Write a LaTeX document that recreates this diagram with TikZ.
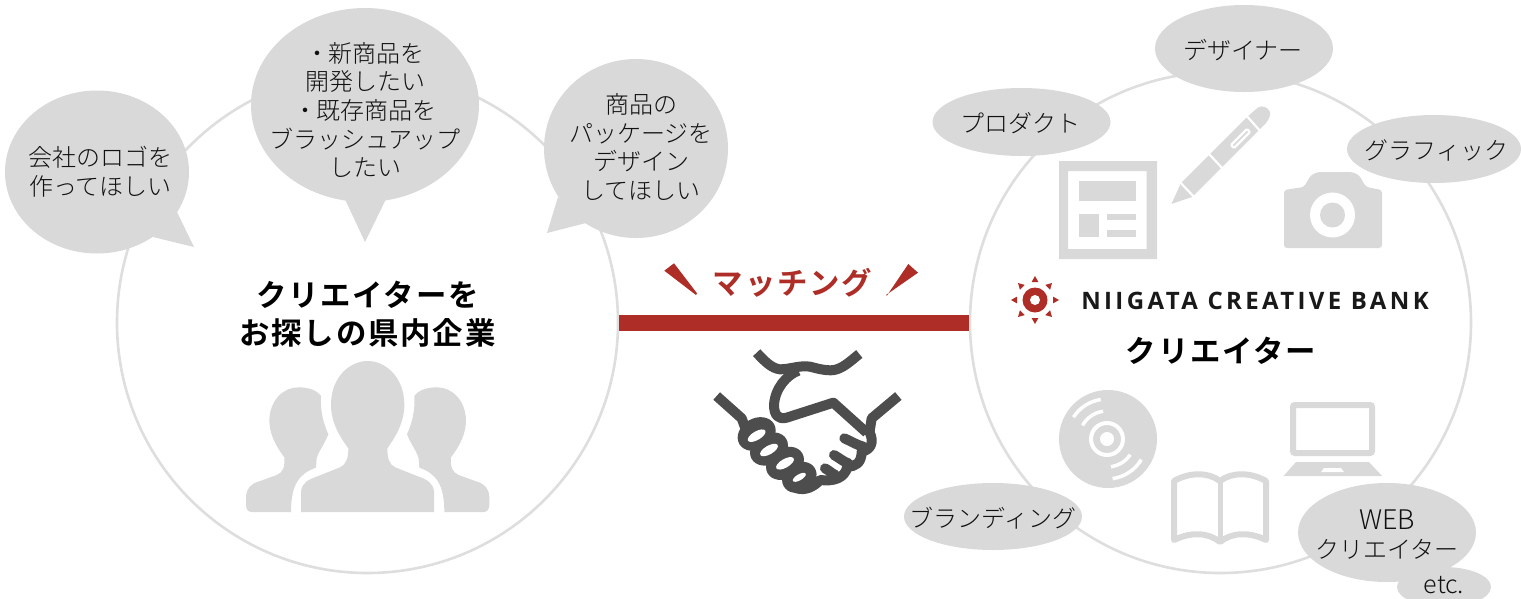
\documentclass[tikz,border=0pt]{standalone}
\usepackage{fontspec}
\usetikzlibrary{shapes.geometric}
\newfontfamily\jp{Noto Sans CJK JP Light}
\newfontfamily\jpb[LetterSpace=6]{Noto Sans CJK JP Bold}
\newfontfamily\logofont[LetterSpace=14]{Open Sans Bold}
\definecolor{blobgray}{HTML}{D9D9D9}
\definecolor{ringgray}{HTML}{DEDEDE}
\definecolor{matchred}{HTML}{AE2E27}
\definecolor{handdark}{HTML}{4D4D4D}
\definecolor{inkgray}{HTML}{111111}
\tikzset{
  ringnode/.style={circle,draw=ringgray,line width=2.6pt,fill=white,minimum size=501pt,inner sep=0pt},
  blob/.style={ellipse,fill=blobgray,inner sep=0pt,outer sep=0pt},
  smalltext/.style={text=inkgray,align=center,inner sep=0pt,font=\jp\fontsize{24}{28.7}\selectfont},
  headtext/.style={text=black,align=center,inner sep=0pt,font=\jpb\fontsize{30.4}{38}\selectfont},
  icon/.style={fill=blobgray,draw=none},
  hand/.style={draw=handdark,line width=10pt,line join=round,fill=none},
}
\begin{document}
\begin{tikzpicture}[x=1pt,y=-1pt]
\useasboundingbox (0,0) rectangle (1521,598);
\fill[white] (0,0) rectangle (1521,598);
\clip (0,0) rectangle (1521,598);
% big rings
\node[ringnode] (cl) at (367.5,322.5) {};
\node[ringnode] (cr) at (1220.5,322.5) {};
\draw[matchred,line width=16pt] (cl.east) -- (cr.west);
% left bubbles
\fill[blobgray] (177,212) -- (194,247) -- (153,237) -- cycle;
\node[blob,minimum width=184pt,minimum height=163pt] (b1) at (97,172) {};
\node[smalltext] (t1) at (100.5,172) {会社のロゴを\\作ってほしい};
\fill[blobgray] (343,195) -- (365,242) -- (388,195) -- cycle;
\node[blob,minimum width=228pt,minimum height=194pt] (b2) at (365,105) {};
\node[smalltext] (t2) at (365,110) {・\kern-1pt新商品を\\開発したい\\・\kern-1pt既存商品を\\ブラッシュアップ\\したい};
\fill[blobgray] (558,197) -- (547,233) -- (586,223) -- cycle;
\node[blob,minimum width=184pt,minimum height=179pt] (b3) at (636,148.5) {};
\node[smalltext] (t3) at (641,147) {商品の\\パッケージを\\デザイン\\してほしい};
\node[headtext] (hl) at (367.5,314) {クリエイターを\\お探しの県内企業};
% people icon
\begin{scope}[shift={(220,340)},scale=1/3]
\fill[icon] (243,516) -- (243,455) .. controls (245,430) and (265,418) .. (290,410) -- (360,382) .. controls (378,374) and (385,355) .. (385,325) .. controls (352,280) and (332,240) .. (333,190) .. controls (335,110) and (390,63) .. (443,63) .. controls (496,63) and (551,110) .. (553,190) .. controls (554,240) and (534,280) .. (502,325) .. controls (502,355) and (508,374) .. (526,382) -- (596,410) .. controls (621,418) and (640,430) .. (642,455) -- (642,516) -- cycle;
\fill[icon] (95,516) .. controls (85,516) and (78,508) .. (78,495) -- (78,470) .. controls (80,445) and (92,432) .. (115,425) -- (170,405) .. controls (190,397) and (195,380) .. (193,352) .. controls (165,315) and (148,280) .. (148,240) .. controls (150,180) and (190,142) .. (235,142) .. controls (265,142) and (290,150) .. (303,168) .. controls (300,210) and (310,250) .. (325,283) .. controls (312,315) and (295,335) .. (290,355) -- (288,383) .. controls (240,400) and (213,430) .. (213,516) -- cycle;
\fill[icon] (791,516) .. controls (801,516) and (808,508) .. (808,495) -- (808,470) .. controls (806,445) and (794,432) .. (771,425) -- (716,405) .. controls (696,397) and (691,380) .. (693,352) .. controls (721,315) and (738,280) .. (738,240) .. controls (736,180) and (696,142) .. (651,142) .. controls (621,142) and (596,150) .. (583,168) .. controls (586,210) and (576,250) .. (561,283) .. controls (574,315) and (591,335) .. (596,355) -- (598,383) .. controls (646,400) and (673,430) .. (673,516) -- cycle;
\end{scope}
% matching label
\fill[matchred] (664.3,270.7) -- (674,263.3) -- (697,293.3) -- (696,295) -- cycle;
\fill[matchred] (918,272.7) -- (908.3,264) -- (887,295.5) -- (886,295) -- cycle;
\node[text=matchred,inner sep=0pt,font=\jpb\fontsize{30.4}{34}\selectfont] (ml) at (792.5,283) {マッチング};
% handshake
\begin{scope}[shift={(600,250)},scale=1/3]
\draw[hand] (470,308) .. controls (495,335) and (515,355) .. (540,358) .. controls (570,358) and (600,345) .. (630,350) .. controls (660,358) and (690,365) .. (710,358) .. controls (735,350) and (755,330) .. (778,312);
\draw[hand] (595,362) .. controls (560,375) and (525,415) .. (522,465) .. controls (522,495) and (535,510) .. (560,503) -- (700,458) -- (800,548);
\draw[hand] (350,438) -- (425,505) -- (438,540);
\draw[hand] (895,438) -- (815,505) -- (808,550);
\draw[hand,line cap=round] (808,545) .. controls (825,580) and (810,600) .. (785,605) .. controls (785,640) and (765,650) .. (742,650) .. controls (735,685) and (700,695) .. (660,690) .. controls (640,712) and (615,722) .. (590,715);
\draw[hand,line cap=round] (733,565) .. controls (750,572) and (770,585) .. (790,590);
\draw[hand,line cap=round] (702,615) .. controls (715,622) and (730,635) .. (745,640);
\draw[hand,line cap=round] (675,655) .. controls (685,660) and (695,670) .. (706,675);
\foreach \hx/\hy/\ra/\rb in {470/552/60/47,507/597/60/46,555/640/60/46,598/682/54/44}{
  \fill[handdark,shift={(\hx,\hy)},rotate=30] (0,0) ellipse [x radius=\ra,y radius=\rb];
}
\foreach \hx/\hy/\ha/\hb in {470/557/30/13,507/600/30/13,555/640/30/13,598/682/22/9}{
  \fill[white,shift={(\hx,\hy)},rotate=30] (0,0) ellipse [x radius=\ha,y radius=\hb];
}
\end{scope}
% newspaper icon
\fill[icon,even odd rule] (1059,161) rectangle (1157,259) (1068,171) rectangle (1146.5,249);
\fill[icon] (1078.5,181) rectangle (1135.5,201);
\fill[icon] (1078.5,214) rectangle (1098.7,237);
\fill[icon] (1107,214) rectangle (1135.5,220);
\fill[icon] (1107,230) rectangle (1135.5,237);
% pen
\fill[icon] (1171.4,204) -- (1181,183) -- (1247,117) -- (1258,107.5) .. controls (1262,105) and (1268,107) .. (1270,112) .. controls (1271,116) and (1268,120) .. (1266,123) -- (1259,130) -- (1192,197) -- cycle;
\draw[white,line width=2.2pt] (1178,180) -- (1195,198);
\draw[white,line width=2.2pt] (1209,154) -- (1224,170);
\draw[white,line width=2.2pt] (1245,114) -- (1261,132);
\draw[white,line width=2.2pt,line cap=round,rounded corners=1pt] (1231,145) -- (1247,129) -- (1250,132) -- (1234,148) -- cycle;
% camera
\fill[icon,rounded corners=3pt] (1284,190) -- (1304,187) -- (1311,175) -- (1318,172) -- (1352,172) -- (1359,175) -- (1366,187) -- (1382,190) -- (1382,248) -- (1284,248) -- cycle;
\fill[white] (1332.5,215) circle [radius=22.5];
\fill[blobgray] (1332.5,215) circle [radius=12.5];
% logo
\fill[matchred] (1035,300) circle [radius=12.5];
\fill[white] (1035,300) circle [radius=5];
\foreach \a in {0,45,...,315}{
  \fill[matchred,shift={(1035,300)},rotate=\a] (18,-3.4) -- (24,0) -- (18,3.4) -- cycle;
}
\node[inner sep=0pt,text=black!90,font=\logofont\fontsize{24}{28}\selectfont] (lg) at (1255,300.5) {NIIGATA CREATIVE BANK};
\node[headtext] (hr) at (1221,351) {クリエイター};
% CD
\fill[icon] (1108,439) circle [radius=49];
\draw[white,line width=4pt] (1107,439) circle [radius=16];
\fill[white] (1107,439) circle [radius=7];
\draw[white,line width=3.5pt] (1107,439) ++(213:40) arc [start angle=213,end angle=261,radius=40];
\draw[white,line width=3.5pt] (1107,439) ++(209:28) arc [start angle=209,end angle=262,radius=28];
\draw[white,line width=3.5pt] (1107,439) ++(31:40) arc [start angle=31,end angle=82,radius=40];
\draw[white,line width=3.5pt] (1107,439) ++(34:28) arc [start angle=34,end angle=82,radius=28];
% laptop
\draw[blobgray,line width=6pt,rounded corners=2pt] (1293,405) rectangle (1372,453);
\fill[icon] (1283.5,476) -- (1296,462) -- (1369,462) -- (1382,476) -- cycle;
\fill[white] (1321,472) -- (1324,468) -- (1341,468) -- (1344,472) -- cycle;
% book
\draw[blobgray,line width=6pt,line join=round] (1220,481) .. controls (1208,472) and (1190,472) .. (1174,481) -- (1174,540) .. controls (1190,532) and (1208,532) .. (1220,542) .. controls (1232,532) and (1250,532) .. (1266,540) -- (1266,481) .. controls (1250,472) and (1232,472) .. (1220,481) -- cycle;
\draw[blobgray,line width=5pt] (1220,481) -- (1220,542);
% right bubbles
\node[blob,minimum width=178pt,minimum height=87pt] (s1) at (1244,48.5) {};
\node[smalltext] (s1t) at (1243,50) {デザイナー};
\node[blob,minimum width=178pt,minimum height=68pt] (s2) at (1021.5,122) {};
\node[smalltext] (s2t) at (1020.5,123) {プロダクト};
\node[blob,minimum width=174pt,minimum height=68pt] (s3) at (1434,149) {};
\node[smalltext] (s3t) at (1436.5,150) {グラフィック};
\node[blob,minimum width=178pt,minimum height=67pt] (s4) at (993,516.5) {};
\node[smalltext] (s4t) at (993,518) {ブランディング};
\node[blob,minimum width=94pt,minimum height=40pt] (s6) at (1444,587) {};
\node[blob,minimum width=178pt,minimum height=99pt] (s5) at (1387,532.5) {};
\node[smalltext] (s5t) at (1387,534.5) {{\fontsize{27}{28.7}\selectfont WEB}\\クリエイター};
\node[smalltext,font=\jp\fontsize{25}{28}\selectfont] (s6t) at (1444,585.5) {etc.};
\end{tikzpicture}
\end{document}
